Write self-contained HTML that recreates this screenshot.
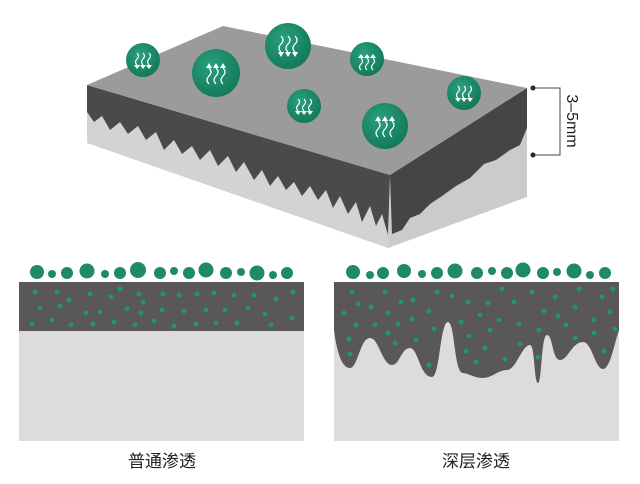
<!DOCTYPE html>
<html><head><meta charset="utf-8"><style>
html,body{margin:0;padding:0;background:#fff;width:640px;height:484px;overflow:hidden}
svg{display:block}
text{font-family:"Liberation Sans","Noto Sans CJK SC",sans-serif}
</style></head><body>
<svg width="640" height="484" viewBox="0 0 640 484" xmlns="http://www.w3.org/2000/svg">
<defs>
<radialGradient id="g" cx="40%" cy="35%" r="65%">
<stop offset="0" stop-color="#2aa07c"/><stop offset="1" stop-color="#137a5a"/>
</radialGradient>
</defs>

<polygon points="87,85 390,175 388,248 87,143" fill="#d3d3d3"/>
<polygon points="390,175 527,88 527,197 388,248" fill="#cbcbcb"/>
<polygon points="87,85 390,175 388,235 382,214 376,226 370,206 362,222 356,202 348,214 340,196 333,208 326,190 318,200 310,186 302,196 294,182 286,190 278,176 270,186 262,170 254,180 244,162 236,172 228,156 218,166 210,150 200,160 192,146 182,154 174,140 164,150 156,132 146,140 138,126 128,134 120,122 110,130 102,116 94,122 87,112" fill="#4a4a4a"/>
<polygon points="390,175 527,88 527,128 520,145 510,150 496,160 484,164 470,178 456,186 442,196 430,204 420,214 410,218 402,230 392,234" fill="#454545"/>
<polygon points="87,85 223,26 527,88 390,175" fill="#9b9b9b"/>

<circle cx="533" cy="88" r="2.5" fill="#222"/><circle cx="533" cy="155" r="2.5" fill="#222"/>
<path d="M533 88 H560 V155 H533" fill="none" stroke="#444" stroke-width="1"/>
<text x="572" y="121" font-size="16" fill="#222" text-anchor="middle" transform="rotate(90 572 121)" dy="5">3–5mm</text>

<g stroke="#fff" stroke-width="1.2" fill="none">
<circle cx="143" cy="60" r="17" fill="url(#g)" stroke="none"/>
<circle cx="216" cy="73" r="24" fill="url(#g)" stroke="none"/>
<circle cx="288" cy="46" r="23" fill="url(#g)" stroke="none"/>
<circle cx="367" cy="59" r="17" fill="url(#g)" stroke="none"/>
<circle cx="304" cy="106" r="17" fill="url(#g)" stroke="none"/>
<circle cx="385" cy="126" r="23" fill="url(#g)" stroke="none"/>
<circle cx="464" cy="93" r="17" fill="url(#g)" stroke="none"/>
<path d="M137 53 q3 3 0 6 q-3 3 0 6 M143 53 q3 3 0 6 q-3 3 0 6 M149 53 q3 3 0 6 q-3 3 0 6"/>
<path d="M209 68 q4 4 0 8 q-4 4 0 8 M216 68 q4 4 0 8 q-4 4 0 8 M223 68 q4 4 0 8 q-4 4 0 8"/>
<path d="M281 36 q4 4 0 8 q-4 4 0 8 M288 36 q4 4 0 8 q-4 4 0 8 M295 36 q4 4 0 8 q-4 4 0 8"/>
<path d="M361 58 q3 3 0 6 q-3 3 0 6 M367 58 q3 3 0 6 q-3 3 0 6 M373 58 q3 3 0 6 q-3 3 0 6"/>
<path d="M298 99 q3 3 0 6 q-3 3 0 6 M304 99 q3 3 0 6 q-3 3 0 6 M310 99 q3 3 0 6 q-3 3 0 6"/>
<path d="M378 121 q4 4 0 8 q-4 4 0 8 M385 121 q4 4 0 8 q-4 4 0 8 M392 121 q4 4 0 8 q-4 4 0 8"/>
<path d="M458 86 q3 3 0 6 q-3 3 0 6 M464 86 q3 3 0 6 q-3 3 0 6 M470 86 q3 3 0 6 q-3 3 0 6"/>
</g>
<g fill="#fff">
<path d="M134 65 h6 l-3 4z M140 65 h6 l-3 4z M146 65 h6 l-3 4z"/>
<path d="M206 68 h6 l-3 -5z M213 68 h6 l-3 -5z M220 68 h6 l-3 -5z"/>
<path d="M278 52 h6 l-3 5z M285 52 h6 l-3 5z M292 52 h6 l-3 5z"/>
<path d="M358 58 h6 l-3 -4z M364 58 h6 l-3 -4z M370 58 h6 l-3 -4z"/>
<path d="M295 111 h6 l-3 4z M301 111 h6 l-3 4z M307 111 h6 l-3 4z"/>
<path d="M375 121 h6 l-3 -5z M382 121 h6 l-3 -5z M389 121 h6 l-3 -5z"/>
<path d="M455 98 h6 l-3 4z M461 98 h6 l-3 4z M467 98 h6 l-3 4z"/>
</g>

<rect x="19" y="282" width="285" height="159" fill="#dcdcdc"/>
<rect x="19" y="282" width="285" height="49" fill="#5a5757"/>
<g fill="#1f8a68">
<circle cx="37" cy="272" r="7"/><circle cx="52" cy="274" r="4"/><circle cx="67" cy="273" r="6"/><circle cx="87" cy="271" r="7.5"/><circle cx="105" cy="274" r="4"/><circle cx="120" cy="273" r="6"/><circle cx="138" cy="270" r="8"/><circle cx="160" cy="273" r="6"/><circle cx="174" cy="271" r="4"/><circle cx="189" cy="273" r="6"/><circle cx="206" cy="270" r="7.5"/><circle cx="226" cy="273" r="6"/><circle cx="241" cy="272" r="4"/><circle cx="257" cy="273" r="7.5"/><circle cx="273" cy="275" r="4"/><circle cx="287" cy="273" r="6"/>
</g>
<g fill="#23946c">
<circle cx="35" cy="292" r="2.5"/><circle cx="57" cy="292" r="2.5"/><circle cx="69" cy="300" r="2.5"/><circle cx="90" cy="294" r="2.5"/><circle cx="111" cy="297" r="2.5"/><circle cx="120" cy="289" r="2.5"/><circle cx="139" cy="294" r="2.5"/><circle cx="163" cy="294" r="2.5"/><circle cx="179" cy="295" r="2.5"/><circle cx="197" cy="294" r="2.5"/><circle cx="214" cy="293" r="2.5"/><circle cx="234" cy="295" r="2.5"/><circle cx="254" cy="295" r="2.5"/><circle cx="276" cy="299" r="2.5"/><circle cx="293" cy="292" r="2.5"/>
<circle cx="40" cy="308" r="2.5"/><circle cx="60" cy="306" r="2.5"/><circle cx="86" cy="313" r="2.5"/><circle cx="100" cy="312" r="2.5"/><circle cx="127" cy="309" r="2.5"/><circle cx="143" cy="302" r="2.5"/><circle cx="141" cy="313" r="2.5"/><circle cx="162" cy="310" r="2.5"/><circle cx="184" cy="311" r="2.5"/><circle cx="206" cy="310" r="2.5"/><circle cx="225" cy="310" r="2.5"/><circle cx="248" cy="308" r="2.5"/><circle cx="265" cy="314" r="2.5"/>
<circle cx="32" cy="324" r="2.5"/><circle cx="52" cy="320" r="2.5"/><circle cx="71" cy="325" r="2.5"/><circle cx="93" cy="324" r="2.5"/><circle cx="114" cy="322" r="2.5"/><circle cx="135" cy="325" r="2.5"/><circle cx="154" cy="321" r="2.5"/><circle cx="174" cy="326" r="2.5"/><circle cx="196" cy="324" r="2.5"/><circle cx="216" cy="323" r="2.5"/><circle cx="237" cy="323" r="2.5"/><circle cx="271" cy="325" r="2.5"/><circle cx="292" cy="318" r="2.5"/>
</g>
<text x="162" y="467" font-size="17" fill="#222" text-anchor="middle">普通渗透</text>

<rect x="334" y="282" width="285" height="159" fill="#dcdcdc"/>
<path d="M334 282 H619 V330 C614 345 610 369 603 369 C595 369 592 342 583 342 C572 342 568 360 560 360 C552 360 553 335 547 335 C541 335 542 383 538 383 C534 383 535 345 530 345 C522 345 516 370 507 370 C498 370 492 378 483 378 C474 378 468 373 463 373 C454 373 455 322 448 322 C440 322 440 377 432 377 C420 377 418 348 410 348 C401 348 400 365 392 365 C382 365 379 338 370 338 C360 338 358 368 350 368 C340 368 336 345 334 330 Z" fill="#5a5757"/>
<g fill="#1f8a68">
<circle cx="353" cy="272" r="7"/><circle cx="370" cy="275" r="4"/><circle cx="383" cy="273" r="6"/><circle cx="404" cy="271" r="7"/><circle cx="422" cy="274" r="4"/><circle cx="437" cy="273" r="6"/><circle cx="455" cy="271" r="7.5"/><circle cx="477" cy="273" r="6"/><circle cx="492" cy="271" r="4"/><circle cx="507" cy="273" r="6"/><circle cx="523" cy="270" r="7.5"/><circle cx="543" cy="273" r="6"/><circle cx="557" cy="272" r="4"/><circle cx="574" cy="271" r="7.5"/><circle cx="590" cy="275" r="4"/><circle cx="605" cy="273" r="6"/>
</g>
<g fill="#23946c">
<circle cx="352" cy="292" r="2.5"/><circle cx="385" cy="292" r="2.5"/><circle cx="437" cy="292" r="2.5"/><circle cx="502" cy="289" r="2.5"/><circle cx="532" cy="292" r="2.5"/><circle cx="579" cy="289" r="2.5"/><circle cx="613" cy="289" r="2.5"/>
<circle cx="358" cy="304" r="2.5"/><circle cx="371" cy="307" r="2.5"/><circle cx="401" cy="302" r="2.5"/><circle cx="413" cy="300" r="2.5"/><circle cx="452" cy="296" r="2.5"/><circle cx="468" cy="302" r="2.5"/><circle cx="488" cy="303" r="2.5"/><circle cx="514" cy="302" r="2.5"/><circle cx="555" cy="297" r="2.5"/><circle cx="575" cy="307" r="2.5"/><circle cx="602" cy="297" r="2.5"/>
<circle cx="344" cy="313" r="2.5"/><circle cx="388" cy="313" r="2.5"/><circle cx="429" cy="311" r="2.5"/><circle cx="480" cy="315" r="2.5"/><circle cx="544" cy="311" r="2.5"/><circle cx="558" cy="316" r="2.5"/><circle cx="610" cy="312" r="2.5"/>
<circle cx="356" cy="325" r="2.5"/><circle cx="375" cy="325" r="2.5"/><circle cx="398" cy="324" r="2.5"/><circle cx="412" cy="319" r="2.5"/><circle cx="461" cy="322" r="2.5"/><circle cx="499" cy="320" r="2.5"/><circle cx="519" cy="324" r="2.5"/><circle cx="566" cy="325" r="2.5"/><circle cx="594" cy="320" r="2.5"/>
<circle cx="349" cy="339" r="2.5"/><circle cx="388" cy="333" r="2.5"/><circle cx="434" cy="329" r="2.5"/><circle cx="469" cy="336" r="2.5"/><circle cx="490" cy="330" r="2.5"/><circle cx="539" cy="330" r="2.5"/><circle cx="575" cy="338" r="2.5"/><circle cx="594" cy="333" r="2.5"/><circle cx="615" cy="329" r="2.5"/>
<circle cx="350" cy="354" r="2.5"/><circle cx="395" cy="343" r="2.5"/><circle cx="416" cy="340" r="2.5"/><circle cx="466" cy="351" r="2.5"/><circle cx="485" cy="348" r="2.5"/><circle cx="520" cy="344" r="2.5"/><circle cx="604" cy="351" r="2.5"/>
<circle cx="429" cy="365" r="2.5"/><circle cx="476" cy="362" r="2.5"/><circle cx="505" cy="359" r="2.5"/><circle cx="538" cy="357" r="2.5"/>
</g>
<text x="476" y="467" font-size="17" fill="#222" text-anchor="middle">深层渗透</text>
</svg>
</body></html>
